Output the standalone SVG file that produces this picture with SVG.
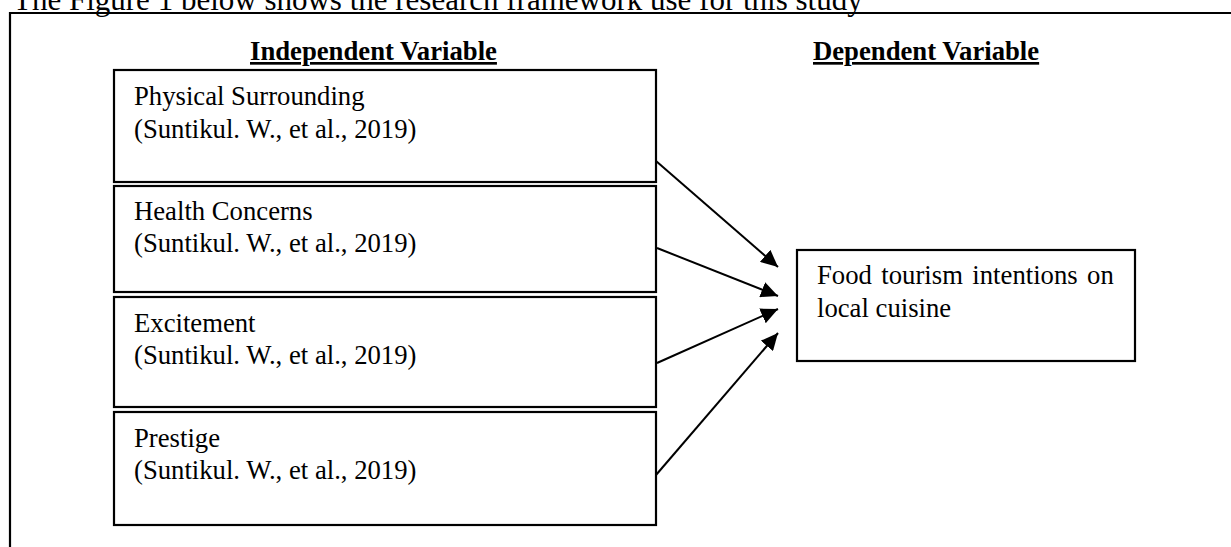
<svg xmlns="http://www.w3.org/2000/svg" width="1231" height="547" viewBox="0 0 1231 547">
<style>
text{font-family:"Liberation Serif","Times New Roman",serif;fill:#000}
.t{font-size:26.7px}
.h{font-size:26.7px;font-weight:bold;text-decoration:underline}
.box{fill:#fff;stroke:#000;stroke-width:2.2}
.conn{stroke:#000;stroke-width:2;fill:none;marker-end:url(#ah)}
</style>
<defs>
<marker id="ah" markerUnits="userSpaceOnUse" markerWidth="18" markerHeight="16" refX="17" refY="8" orient="auto">
<path d="M0,0 L17,8 L0,16 Z" fill="#000"/>
</marker>
</defs>
<rect width="1231" height="547" fill="#fff"/>
<text x="13" y="10" style="font-size:31px">The Figure 1 below shows the research framework use for this study</text>
<path d="M10,547 V13 H1231" fill="none" stroke="#000" stroke-width="2.2"/>
<text class="h" x="250" y="60">Independent Variable</text>
<text class="h" x="813" y="60">Dependent Variable</text>
<g id="n1"><rect class="box" x="114" y="70" width="542" height="112"/>
<text class="t" x="134" y="105">Physical Surrounding</text>
<text class="t" x="134" y="138">(Suntikul. W., et al., 2019)</text></g>
<g id="n2"><rect class="box" x="114" y="186" width="542" height="106"/>
<text class="t" x="134" y="220">Health Concerns</text>
<text class="t" x="134" y="252">(Suntikul. W., et al., 2019)</text></g>
<g id="n3"><rect class="box" x="114" y="297" width="542" height="110"/>
<text class="t" x="134" y="332">Excitement</text>
<text class="t" x="134" y="364">(Suntikul. W., et al., 2019)</text></g>
<g id="n4"><rect class="box" x="114" y="412" width="542" height="113"/>
<text class="t" x="134" y="447">Prestige</text>
<text class="t" x="134" y="479">(Suntikul. W., et al., 2019)</text></g>
<g id="n5"><rect class="box" x="797" y="250" width="338" height="111"/>
<text class="t" x="817" y="284" word-spacing="2.8">Food tourism intentions on</text>
<text class="t" x="817" y="317">local cuisine</text></g>
<g id="connectors">
<line class="conn" x1="656" y1="161" x2="778" y2="267"/>
<line class="conn" x1="657" y1="248" x2="778" y2="296"/>
<line class="conn" x1="657" y1="363" x2="778" y2="309"/>
<line class="conn" x1="656" y1="475" x2="778" y2="333"/>
</g>
</svg>
